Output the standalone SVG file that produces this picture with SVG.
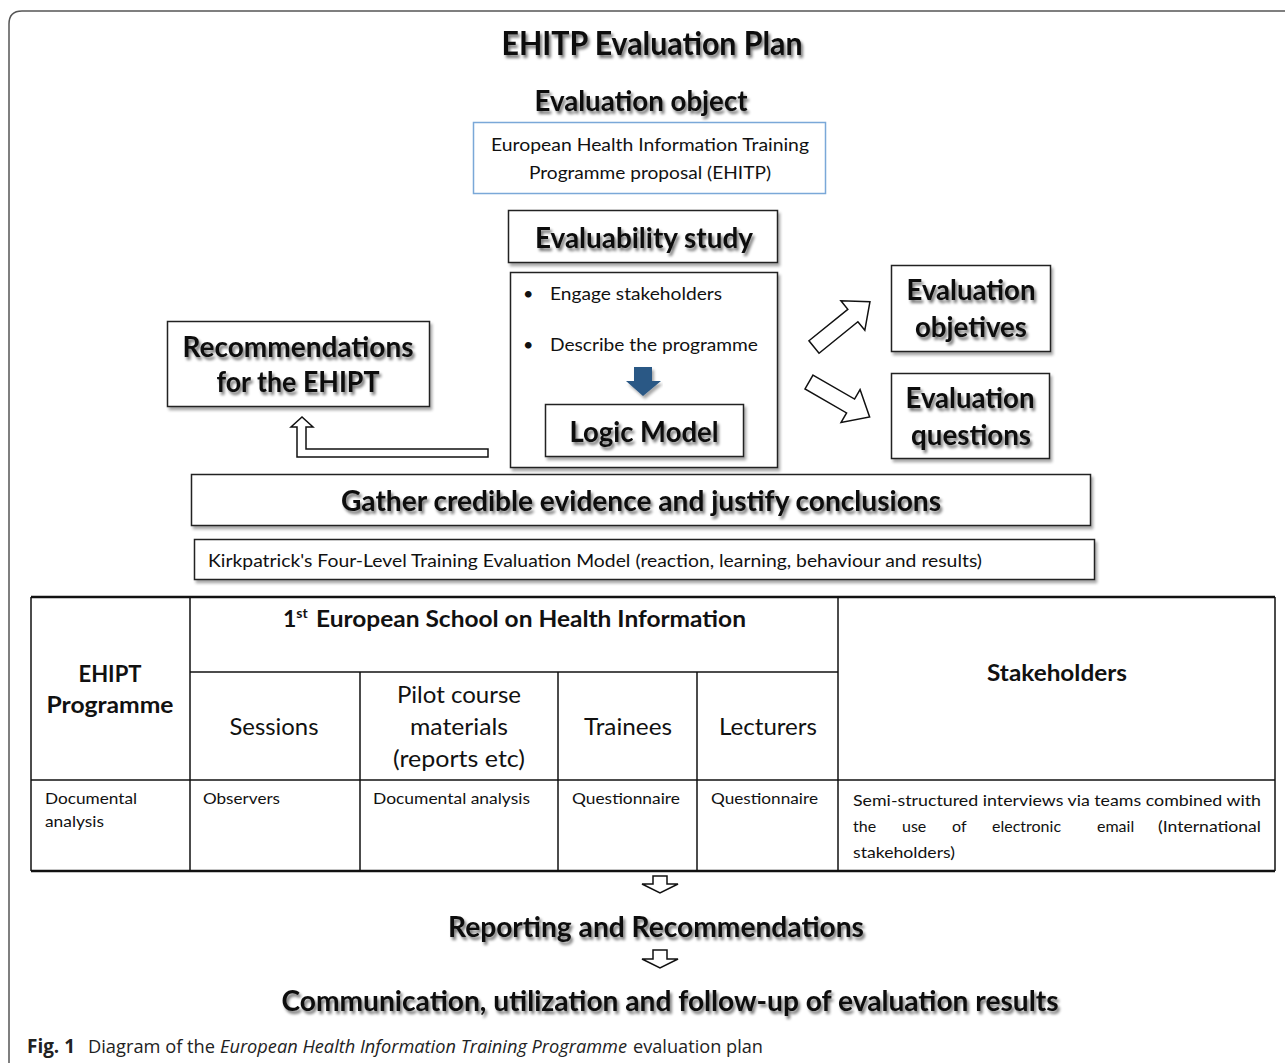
<svg xmlns="http://www.w3.org/2000/svg" width="1285" height="1063" viewBox="0 0 1285 1063">
  <defs>
    <filter id="soft" x="-10%" y="-30%" width="120%" height="170%">
      <feGaussianBlur in="SourceAlpha" stdDeviation="1.8"/>
      <feOffset dx="2" dy="3" result="b"/>
      <feComponentTransfer><feFuncA type="linear" slope="0.55"/></feComponentTransfer>
      <feMerge><feMergeNode/><feMergeNode in="SourceGraphic"/></feMerge>
    </filter>
    <filter id="boxshadow" x="-5%" y="-10%" width="110%" height="130%">
      <feGaussianBlur in="SourceAlpha" stdDeviation="1.5"/>
      <feOffset dx="1.5" dy="2.5"/>
      <feComponentTransfer><feFuncA type="linear" slope="0.35"/></feComponentTransfer>
      <feMerge><feMergeNode/><feMergeNode in="SourceGraphic"/></feMerge>
    </filter>
  </defs>
  <style>
    text { font-family: Lato, "Open Sans", "Liberation Sans", sans-serif; fill: #111; }
    .h { font-weight: 700; font-size: 28px; filter: url(#soft); }
    .title { font-weight: 700; font-size: 32px; filter: url(#soft); }
    .body { font-size: 18px; }
    .th { font-weight: 700; font-size: 23px; }
    .tc { font-size: 23px; }
    .td { font-size: 16px; }
    .box { fill: #fff; stroke: #222; stroke-width: 1.5; filter: url(#boxshadow); }
    .blue { fill: #fff; stroke: #7aa8d8; stroke-width: 1.5; }
    .hollow { fill: #fff; stroke: #111; stroke-width: 1.5; stroke-linejoin: miter; }
    .grid { stroke: #111; stroke-width: 1.5; fill: none; }
    .thick { stroke: #111; stroke-width: 2.5; fill: none; }
    .cap { font-family: "Open Sans", Lato, "Liberation Sans", sans-serif; font-size: 19px; fill: #222; }
  </style>

  <rect width="1285" height="1063" fill="#fff"/>
  <!-- outer frame -->
  <path d="M9,1063 V24 Q9,11 22,11 H1285" fill="none" stroke="#555" stroke-width="1.5"/>

  <g id="title">
    <text class="title" x="652" y="55" text-anchor="middle" textLength="301" lengthAdjust="spacingAndGlyphs">EHITP Evaluation Plan</text>
  </g>

  <g id="evaluation-object">
    <text class="h" x="641" y="111" text-anchor="middle" textLength="213" lengthAdjust="spacingAndGlyphs">Evaluation object</text>
    <rect class="blue" x="473.5" y="122.5" width="352" height="71"/>
    <text class="body" x="650" y="151" text-anchor="middle" textLength="318" lengthAdjust="spacingAndGlyphs">European Health Information Training</text>
    <text class="body" x="650" y="179" text-anchor="middle" textLength="242" lengthAdjust="spacingAndGlyphs">Programme proposal (EHITP)</text>
  </g>

  <g id="evaluability-study">
    <rect class="box" x="508.5" y="210.5" width="269" height="52"/>
    <text class="h" x="644" y="248" text-anchor="middle" textLength="218" lengthAdjust="spacingAndGlyphs">Evaluability study</text>
  </g>

  <g id="study-steps">
    <rect class="box" x="510.5" y="272.5" width="267" height="195"/>
    <text class="body" x="523" y="300">•</text>
    <text class="body" x="550" y="300" textLength="172" lengthAdjust="spacingAndGlyphs">Engage stakeholders</text>
    <text class="body" x="523" y="351">•</text>
    <text class="body" x="550" y="351" textLength="208" lengthAdjust="spacingAndGlyphs">Describe the programme</text>
  </g>

  <g id="logic-model">
    <rect class="box" x="545.5" y="404.5" width="198" height="52"/>
    <text class="h" x="644" y="442" text-anchor="middle" textLength="149" lengthAdjust="spacingAndGlyphs">Logic Model</text>
  </g>

  <g id="evaluation-objectives">
    <rect class="box" x="891.5" y="265.5" width="159" height="86"/>
    <text class="h" x="971" y="300" text-anchor="middle" textLength="129" lengthAdjust="spacingAndGlyphs">Evaluation</text>
    <text class="h" x="971" y="337" text-anchor="middle" textLength="112" lengthAdjust="spacingAndGlyphs">objetives</text>
  </g>

  <g id="evaluation-questions">
    <rect class="box" x="891.5" y="373.5" width="158" height="85"/>
    <text class="h" x="970" y="408" text-anchor="middle" textLength="129" lengthAdjust="spacingAndGlyphs">Evaluation</text>
    <text class="h" x="971" y="445" text-anchor="middle" textLength="120" lengthAdjust="spacingAndGlyphs">questions</text>
  </g>

  <g id="recommendations">
    <rect class="box" x="167.5" y="321.5" width="262" height="85"/>
    <text class="h" x="298" y="357" text-anchor="middle" textLength="231" lengthAdjust="spacingAndGlyphs">Recommendations</text>
    <text class="h" x="298" y="392" text-anchor="middle" textLength="163" lengthAdjust="spacingAndGlyphs">for the EHIPT</text>
  </g>

  <g id="gather-evidence">
    <rect class="box" x="191.5" y="474.5" width="899" height="51"/>
    <text class="h" x="641" y="511" text-anchor="middle" textLength="600" lengthAdjust="spacingAndGlyphs">Gather credible evidence and justify conclusions</text>
  </g>

  <g id="kirkpatrick">
    <rect class="box" x="194.5" y="539.5" width="900" height="40"/>
    <text class="body" x="208" y="567" textLength="774" lengthAdjust="spacingAndGlyphs">Kirkpatrick's Four-Level Training Evaluation Model (reaction, learning, behaviour and results)</text>
  </g>

  <g id="connectors">
    <!-- filled arrow into the logic model -->
    <path d="M634,367 H652 V381 H661 L643,396 L626,381 H634 Z" fill="#2b5885" filter="url(#boxshadow)"/>
    <!-- hollow arrows to objectives and questions -->
    <path class="hollow" transform="translate(814,347) rotate(-39)" d="M0,-8 H50 V-19 L72,0 L50,19 V8 H0 Z"/>
    <path class="hollow" transform="translate(809,382) rotate(30)" d="M0,-8 H48 V-19 L70,0 L48,19 V8 H0 Z"/>
    <!-- elbow arrow back to recommendations -->
    <path class="hollow" d="M488,449 H306 V427 H313 L302,417 L291,427 H297 V457 H488 Z"/>
    <!-- downward hollow arrows -->
    <path class="hollow" d="M653,876 H667 V884 H678 L660,893 L642,884 H653 Z"/>
    <path class="hollow" d="M653,950 H667 V959 H678 L660,968 L642,959 H653 Z"/>
  </g>

  <g id="methods-table">
    <line class="thick" x1="31" y1="597" x2="1275" y2="597"/>
    <line class="thick" x1="31" y1="871" x2="1275" y2="871"/>
    <line class="grid" x1="31" y1="597" x2="31" y2="871"/>
    <line class="grid" x1="1275" y1="597" x2="1275" y2="871"/>
    <line class="grid" x1="190" y1="597" x2="190" y2="871"/>
    <line class="grid" x1="838" y1="597" x2="838" y2="871"/>
    <line class="grid" x1="190" y1="672" x2="838" y2="672"/>
    <line class="grid" x1="360" y1="672" x2="360" y2="871"/>
    <line class="grid" x1="558" y1="672" x2="558" y2="871"/>
    <line class="grid" x1="697" y1="672" x2="697" y2="871"/>
    <line class="grid" x1="31" y1="780" x2="1275" y2="780"/>

    <text class="th" x="110" y="682" text-anchor="middle" textLength="63" lengthAdjust="spacingAndGlyphs">EHIPT</text>
    <text class="th" x="110" y="713" text-anchor="middle" textLength="127" lengthAdjust="spacingAndGlyphs">Programme</text>
    <text class="th" x="283" y="627">1<tspan font-size="14" dy="-9">st</tspan></text>
    <text class="th" x="316" y="627" textLength="430" lengthAdjust="spacingAndGlyphs">European School on Health Information</text>
    <text class="tc" x="274" y="735" text-anchor="middle" textLength="89" lengthAdjust="spacingAndGlyphs">Sessions</text>
    <text class="tc" x="459" y="703" text-anchor="middle" textLength="124" lengthAdjust="spacingAndGlyphs">Pilot course</text>
    <text class="tc" x="459" y="735" text-anchor="middle" textLength="98" lengthAdjust="spacingAndGlyphs">materials</text>
    <text class="tc" x="459" y="767" text-anchor="middle" textLength="132" lengthAdjust="spacingAndGlyphs">(reports etc)</text>
    <text class="tc" x="628" y="735" text-anchor="middle" textLength="88" lengthAdjust="spacingAndGlyphs">Trainees</text>
    <text class="tc" x="768" y="735" text-anchor="middle" textLength="98" lengthAdjust="spacingAndGlyphs">Lecturers</text>
    <text class="th" x="1057" y="681" text-anchor="middle" textLength="140" lengthAdjust="spacingAndGlyphs">Stakeholders</text>

    <text class="td" x="45" y="804" textLength="92" lengthAdjust="spacingAndGlyphs">Documental</text>
    <text class="td" x="45" y="827" textLength="59" lengthAdjust="spacingAndGlyphs">analysis</text>
    <text class="td" x="203" y="804" textLength="77" lengthAdjust="spacingAndGlyphs">Observers</text>
    <text class="td" x="373" y="804" textLength="157" lengthAdjust="spacingAndGlyphs">Documental analysis</text>
    <text class="td" x="572" y="804" textLength="108" lengthAdjust="spacingAndGlyphs">Questionnaire</text>
    <text class="td" x="711" y="804" textLength="107" lengthAdjust="spacingAndGlyphs">Questionnaire</text>
    <text class="td" x="853" y="806" textLength="408" lengthAdjust="spacingAndGlyphs">Semi-structured interviews via teams combined with</text>
    <text class="td" y="832"><tspan x="853">the</tspan><tspan x="902">use</tspan><tspan x="952">of</tspan><tspan x="992">electronic</tspan><tspan x="1097">email</tspan></text>
    <text class="td" x="1158" y="832" textLength="103" lengthAdjust="spacingAndGlyphs">(International</text>
    <text class="td" x="853" y="858" textLength="102" lengthAdjust="spacingAndGlyphs">stakeholders)</text>
  </g>

  <g id="reporting">
    <text class="h" x="656" y="937" text-anchor="middle" textLength="416" lengthAdjust="spacingAndGlyphs">Reporting and Recommendations</text>
  </g>

  <g id="communication">
    <text class="h" x="670" y="1011" text-anchor="middle" textLength="777" lengthAdjust="spacingAndGlyphs">Communication, utilization and follow-up of evaluation results</text>
  </g>

  <g id="caption">
    <text class="cap" x="27" y="1053" font-weight="700" textLength="48" lengthAdjust="spacingAndGlyphs">Fig. 1</text>
    <text class="cap" x="88" y="1053" textLength="127" lengthAdjust="spacingAndGlyphs">Diagram of the</text>
    <text class="cap" x="220" y="1053" font-style="italic" textLength="407" lengthAdjust="spacingAndGlyphs">European Health Information Training Programme</text>
    <text class="cap" x="633" y="1053" textLength="130" lengthAdjust="spacingAndGlyphs">evaluation plan</text>
  </g>
</svg>
